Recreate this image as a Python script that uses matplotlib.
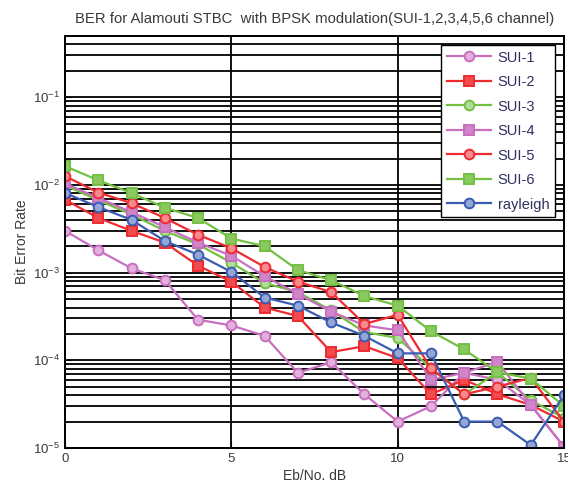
import matplotlib
matplotlib.use("Agg")
import matplotlib.pyplot as plt
import numpy as np

plt.rcParams.update({
    "font.family": ["Liberation Sans", "DejaVu Sans"],
    "mathtext.fontset": "custom",
    "mathtext.rm": "Liberation Sans",
    "mathtext.it": "Liberation Sans",
})

PINK = "#c86fc0"
RED = "#ee2b30"
GREEN = "#74c043"
BLUE = "#3a5db3"
TEXT = "#3a3a3a"

ebno = np.arange(0, 16)

sui1 = [3.0e-3, 1.8e-3, 1.12e-3, 8.2e-4, 2.9e-4, 2.5e-4, 1.9e-4, 7.2e-5,
        9.5e-5, 4.1e-5, 2.0e-5, 3.0e-5, 7.2e-5, 6.0e-5, 3.1e-5, 1.03e-5]
sui2 = [6.8e-3, 4.2e-3, 3.0e-3, 2.2e-3, 1.2e-3, 7.9e-4, 4.0e-4, 3.2e-4,
        1.24e-4, 1.45e-4, 1.06e-4, 4.1e-5, 6.0e-5, 4.1e-5, 3.1e-5, 2.0e-5]
sui3 = [9.9e-3, 6.7e-3, 4.6e-3, 3.0e-3, 2.1e-3, 1.3e-3, 7.6e-4, 6.0e-4,
        3.7e-4, 2.1e-4, 1.8e-4, 8.1e-5, 4.1e-5, 7.3e-5, 3.5e-5, 2.2e-5]
sui4 = [1.04e-2, 7.1e-3, 4.9e-3, 3.3e-3, 2.2e-3, 1.56e-3, 9.1e-4, 5.7e-4,
        3.6e-4, 2.5e-4, 2.2e-4, 6.0e-5, 7.2e-5, 9.6e-5, 3.1e-5, 1.03e-5]
sui5 = [1.26e-2, 8.2e-3, 6.2e-3, 4.2e-3, 2.7e-3, 1.9e-3, 1.16e-3, 7.9e-4,
        6.0e-4, 2.6e-4, 3.3e-4, 8.1e-5, 4.1e-5, 5.0e-5, 6.3e-5, 2.0e-5]
sui6 = [1.64e-2, 1.13e-2, 8.1e-3, 5.5e-3, 4.2e-3, 2.45e-3, 2.0e-3, 1.07e-3,
        8.2e-4, 5.4e-4, 4.2e-4, 2.15e-4, 1.33e-4, 7.3e-5, 6.2e-5, 3.0e-5]
rayleigh = [8.1e-3, 5.6e-3, 4.0e-3, 2.3e-3, 1.6e-3, 1.02e-3, 5.2e-4, 4.2e-4,
            2.7e-4, 1.9e-4, 1.2e-4, 1.2e-4, 2.0e-5, 2.0e-5, 1.08e-5, 4.0e-5]

series = [
    ("SUI-1", sui1, PINK, "o"),
    ("SUI-2", sui2, RED, "s"),
    ("SUI-3", sui3, GREEN, "o"),
    ("SUI-4", sui4, PINK, "s"),
    ("SUI-5", sui5, RED, "o"),
    ("SUI-6", sui6, GREEN, "s"),
    ("rayleigh", rayleigh, BLUE, "o"),
]


def lighten(c, amt):
    rgb = np.array(matplotlib.colors.to_rgb(c))
    return tuple(rgb + (1 - rgb) * amt)


fig = plt.figure(figsize=(5.68, 4.97), dpi=100)
ax = fig.add_axes([0.1144, 0.0986, 0.8786, 0.829])

for name, vals, col, mk in series:
    face = lighten(col, 0.45) if mk == "o" else lighten(col, 0.15)
    ax.semilogy(ebno, vals, color=col, lw=1.6, marker=mk,
                markersize=7 if mk == "o" else 7.5, markerfacecolor=face,
                markeredgecolor=col, markeredgewidth=1.4, label=name)

ax.set_xlim(0, 15)
ax.set_ylim(1e-5, 0.5)
ax.set_xticks([0, 5, 10, 15])
ax.grid(True, which="major", color="black", lw=1.3)
ax.grid(True, which="minor", axis="y", color="black", lw=1.3)
ax.tick_params(which="both", direction="in", colors="black",
               labelcolor=TEXT, labelsize=9.5)
ax.tick_params(which="major", length=4)
ax.tick_params(which="minor", length=2)
for s in ax.spines.values():
    s.set_linewidth(1.4)
    s.set_color("black")

ax.set_title("BER for Alamouti STBC  with BPSK modulation(SUI-1,2,3,4,5,6 channel)",
             fontsize=10.7, color=TEXT, pad=9)
ax.set_xlabel("Eb/No. dB", fontsize=10, color=TEXT, labelpad=3)
ax.set_ylabel("Bit Error Rate", fontsize=10, color=TEXT, labelpad=3)

leg = ax.legend(loc="upper right", fontsize=10.5, handlelength=3.0,
                handletextpad=0.5, fancybox=False, framealpha=1,
                edgecolor="black", borderaxespad=0.6, labelspacing=0.72)
leg.get_frame().set_linewidth(1.0)
for t in leg.get_texts():
    t.set_color("#303060")

plt.savefig("out.png", dpi=100)
